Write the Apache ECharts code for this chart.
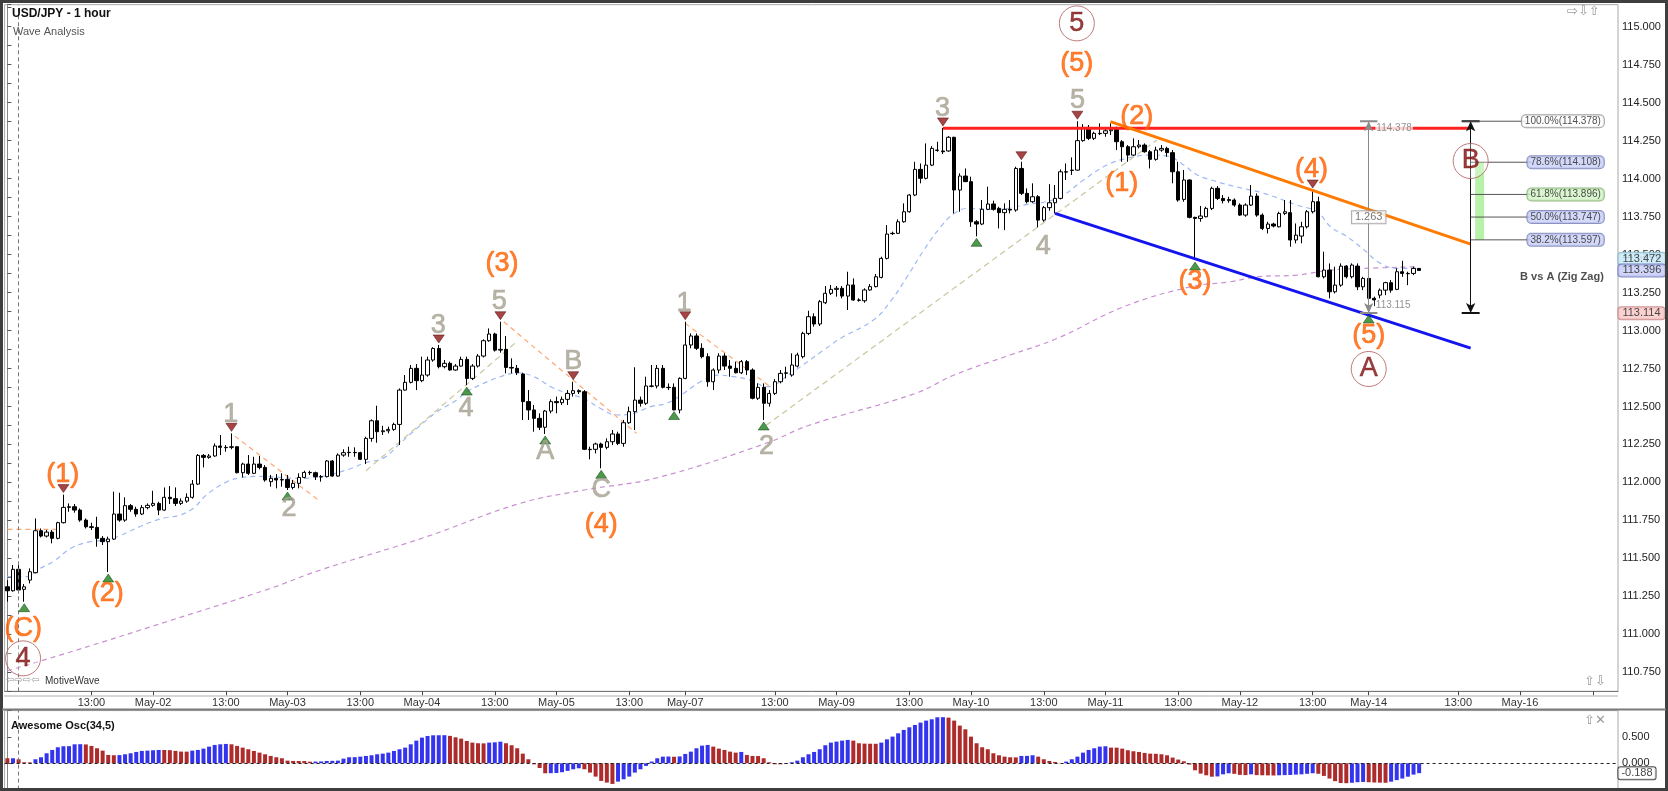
<!DOCTYPE html>
<html><head><meta charset="utf-8">
<script src="https://cdn.jsdelivr.net/npm/echarts@6/dist/echarts.min.js"></script>
<style>html,body{margin:0;padding:0;background:#fff}#c{width:1668px;height:791px}</style>
</head><body><div id="c"></div><script>
// ---------- DATA ----------
const slotCount = 288;
const open = [111.313,111.287,111.428,111.296,111.357,111.406,111.682,111.647,111.673,111.632,111.735,111.836,111.840,111.818,111.752,111.708,111.704,111.632,111.610,111.627,
111.792,111.752,111.847,111.823,111.792,111.834,111.849,111.862,111.818,111.902,111.893,111.862,111.877,111.902,111.989,112.178,112.165,112.174,112.240,112.231,
112.231,112.235,112.064,112.121,112.060,112.121,112.099,112.005,112.027,112.016,112.020,111.967,111.994,112.033,112.066,112.064,112.038,112.038,112.141,112.042,
112.180,112.196,112.198,112.196,112.152,112.290,112.406,112.334,112.340,112.349,112.382,112.608,112.659,112.751,112.670,112.707,112.806,112.882,112.762,112.784,
112.740,112.766,112.810,112.685,112.766,112.832,112.933,112.977,112.871,112.876,112.757,112.751,112.714,112.532,112.477,112.422,112.363,112.470,112.532,112.525,
112.547,112.586,112.604,112.597,112.218,112.218,112.253,112.231,112.268,112.319,112.257,112.393,112.466,112.542,112.521,112.635,112.635,112.751,112.626,112.626,
112.477,112.685,112.905,112.964,112.883,112.828,112.663,112.740,112.832,112.766,112.751,112.722,112.795,112.740,112.554,112.626,112.521,112.586,112.663,112.718,
112.707,112.766,112.828,112.981,113.091,113.043,113.183,113.245,113.271,113.278,113.227,113.300,113.201,113.196,113.267,113.289,113.350,113.475,113.640,113.640,
113.716,113.782,113.892,114.061,114.002,114.089,114.188,114.182,114.182,114.272,113.925,114.017,113.980,113.716,113.701,113.798,113.833,113.804,113.776,113.798,
113.793,114.067,113.903,113.848,113.881,113.727,113.809,113.841,113.870,114.045,114.056,114.056,114.250,114.337,114.265,114.298,114.298,114.315,114.324,114.243,
114.210,114.155,114.210,114.221,114.177,114.127,114.188,114.199,114.171,114.045,113.863,113.991,113.745,113.738,113.749,113.804,113.936,113.870,113.855,113.859,
113.826,113.760,113.826,113.885,113.760,113.672,113.701,113.683,113.771,113.776,113.596,113.622,113.683,113.782,113.848,113.354,113.398,113.255,113.299,113.424,
113.354,113.424,113.288,113.343,113.212,113.233,113.266,113.315,113.271,113.387,113.376,113.376,113.409];
const close = [111.287,111.428,111.292,111.313,111.412,111.682,111.647,111.673,111.632,111.735,111.836,111.840,111.818,111.752,111.708,111.704,111.632,111.610,111.627,111.792,
111.752,111.847,111.823,111.792,111.834,111.849,111.862,111.818,111.902,111.893,111.862,111.877,111.902,111.989,112.178,112.165,112.174,112.240,112.231,112.229,
112.235,112.064,112.121,112.060,112.121,112.099,112.016,112.027,112.016,112.020,111.967,111.994,112.033,112.066,112.064,112.038,112.036,112.141,112.042,112.180,
112.196,112.198,112.196,112.152,112.290,112.406,112.334,112.340,112.349,112.382,112.608,112.659,112.751,112.670,112.707,112.806,112.882,112.762,112.784,112.740,
112.766,112.810,112.685,112.766,112.832,112.933,112.977,112.871,112.876,112.757,112.753,112.722,112.532,112.477,112.422,112.363,112.470,112.532,112.525,112.547,
112.586,112.604,112.597,112.218,112.216,112.253,112.231,112.268,112.319,112.257,112.393,112.466,112.542,112.521,112.635,112.633,112.751,112.626,112.624,112.477,
112.685,112.905,112.964,112.883,112.828,112.663,112.740,112.832,112.766,112.751,112.722,112.795,112.740,112.554,112.626,112.521,112.586,112.663,112.718,112.722,
112.773,112.839,112.981,113.091,113.043,113.190,113.245,113.271,113.278,113.227,113.300,113.201,113.199,113.267,113.289,113.354,113.475,113.635,113.638,113.716,
113.782,113.892,114.061,114.002,114.089,114.199,114.186,114.177,114.272,113.925,114.017,113.980,113.716,113.701,113.798,113.833,113.798,113.776,113.798,113.793,
114.067,113.903,113.848,113.881,113.727,113.809,113.841,113.870,114.045,114.043,114.054,114.250,114.337,114.265,114.298,114.296,114.315,114.324,114.243,114.210,
114.155,114.210,114.221,114.177,114.127,114.188,114.199,114.171,114.045,113.859,113.991,113.745,113.738,113.754,113.804,113.936,113.870,113.855,113.863,113.826,
113.760,113.826,113.885,113.760,113.672,113.701,113.688,113.771,113.782,113.596,113.628,113.683,113.782,113.848,113.354,113.398,113.255,113.299,113.424,113.354,
113.431,113.288,113.343,113.212,113.201,113.266,113.315,113.266,113.387,113.376,113.374,113.409,113.396];
const high = [111.357,111.456,111.467,111.331,111.434,111.763,111.697,111.687,111.687,111.741,111.920,111.862,111.858,111.829,111.763,111.735,111.774,111.647,111.643,111.939,
111.932,111.902,111.858,111.840,111.851,111.862,111.945,111.873,111.967,111.976,111.967,111.895,111.928,112.016,112.187,112.187,112.187,112.257,112.312,112.246,
112.323,112.240,112.130,112.180,112.169,112.174,112.114,112.049,112.055,112.060,112.049,112.016,112.060,112.077,112.077,112.071,112.049,112.147,112.147,112.191,
112.218,112.235,112.231,112.202,112.301,112.415,112.505,112.373,112.367,112.393,112.619,112.707,112.773,112.779,112.828,112.828,112.890,112.905,112.806,112.795,
112.779,112.828,112.828,112.779,112.845,112.942,113.014,112.986,113.058,112.964,112.817,112.773,112.722,112.608,112.510,112.455,112.477,112.547,112.565,112.565,
112.608,112.663,112.613,112.608,112.235,112.262,112.262,112.290,112.345,112.334,112.411,112.499,112.758,112.565,112.696,112.773,112.773,112.773,112.652,112.652,
112.692,113.058,112.981,112.981,112.916,112.850,112.751,112.850,112.850,112.806,112.795,112.806,112.806,112.751,112.652,112.652,112.608,112.680,112.740,112.762,
112.850,112.854,112.992,113.130,113.113,113.201,113.293,113.300,113.293,113.293,113.387,113.343,113.212,113.278,113.306,113.372,113.486,113.694,113.651,113.732,
113.837,113.899,114.111,114.100,114.232,114.214,114.243,114.334,114.280,114.276,114.035,114.067,114.013,113.727,113.859,113.947,113.855,113.815,113.837,113.859,
114.078,114.111,113.936,113.969,113.892,113.820,113.964,113.958,114.061,114.100,114.140,114.378,114.359,114.353,114.309,114.364,114.331,114.364,114.342,114.254,
114.221,114.265,114.254,114.232,114.188,114.210,114.221,114.210,114.188,114.111,114.057,113.995,113.749,113.820,113.815,113.947,113.951,113.892,113.881,113.870,
113.837,113.837,113.958,113.903,113.771,113.716,113.710,113.782,113.859,113.859,113.705,113.716,113.793,113.925,113.881,113.519,113.442,113.420,113.442,113.431,
113.442,113.442,113.354,113.354,113.223,113.277,113.321,113.332,113.409,113.459,113.387,113.420,113.409];
const low = [111.215,111.281,111.270,111.215,111.335,111.401,111.638,111.638,111.599,111.625,111.730,111.807,111.801,111.741,111.697,111.687,111.577,111.588,111.410,111.621,
111.741,111.741,111.807,111.774,111.785,111.823,111.840,111.785,111.814,111.858,111.845,111.851,111.866,111.893,111.983,112.099,112.156,112.169,112.180,112.202,
112.218,112.060,112.033,112.049,112.055,112.086,112.005,111.972,111.961,111.972,111.950,111.954,111.961,112.027,112.049,112.016,112.005,112.033,112.038,112.038,
112.169,112.169,112.169,112.147,112.121,112.268,112.261,112.312,112.323,112.340,112.246,112.604,112.652,112.608,112.660,112.696,112.795,112.751,112.751,112.736,
112.736,112.762,112.641,112.674,112.757,112.823,112.926,112.861,112.854,112.718,112.718,112.707,112.411,112.411,112.334,112.345,112.319,112.455,112.455,112.510,
112.510,112.565,112.582,112.213,112.152,112.191,112.093,112.218,112.246,112.246,112.235,112.385,112.345,112.499,112.510,112.626,112.619,112.619,112.608,112.480,
112.455,112.679,112.883,112.872,112.817,112.630,112.608,112.718,112.740,112.696,112.718,112.714,112.707,112.547,112.543,112.411,112.499,112.575,112.652,112.685,
112.696,112.757,112.817,112.970,113.025,113.030,113.174,113.234,113.223,113.212,113.135,113.196,113.190,113.183,113.262,113.284,113.343,113.468,113.629,113.635,
113.710,113.776,113.885,113.969,113.995,114.083,114.177,114.162,114.177,113.771,113.782,113.978,113.683,113.620,113.694,113.793,113.789,113.672,113.661,113.771,
113.782,113.892,113.837,113.841,113.679,113.716,113.789,113.771,113.863,113.991,114.024,114.052,114.243,114.254,114.254,114.287,114.276,114.287,114.188,114.111,
114.111,114.149,114.199,114.171,114.067,114.118,114.177,114.144,113.969,113.848,113.848,113.738,113.464,113.716,113.745,113.793,113.859,113.837,113.841,113.815,
113.754,113.749,113.820,113.749,113.661,113.639,113.679,113.679,113.760,113.552,113.574,113.574,113.672,113.771,113.350,113.343,113.212,113.244,113.288,113.343,
113.343,113.266,113.266,113.115,113.161,113.212,113.233,113.249,113.266,113.354,113.299,113.365,113.398];
const awesomeOsc = [0.095,0.095,0.076,0.019,0.017,0.076,0.114,0.19,0.253,0.304,0.323,0.325,0.36,0.362,0.358,0.329,0.285,0.24,0.158,0.152,
0.155,0.171,0.19,0.215,0.234,0.24,0.247,0.253,0.252,0.249,0.235,0.222,0.221,0.24,0.253,0.278,0.316,0.348,0.36,0.367,
0.36,0.329,0.297,0.266,0.234,0.202,0.171,0.139,0.114,0.095,0.05,0.044,0.043,0.042,0.03,0.032,0.035,0.044,0.046,0.05,
0.088,0.114,0.116,0.126,0.139,0.152,0.171,0.183,0.202,0.234,0.266,0.297,0.36,0.43,0.487,0.518,0.531,0.532,0.533,0.52,
0.493,0.468,0.424,0.392,0.38,0.378,0.392,0.398,0.41,0.38,0.342,0.285,0.183,0.076,-0.02,-0.09,-0.19,-0.188,-0.185,-0.17,
-0.145,-0.114,-0.095,-0.114,-0.177,-0.253,-0.335,-0.367,-0.392,-0.348,-0.304,-0.253,-0.177,-0.114,-0.05,0.032,0.095,0.126,0.128,0.124,
0.13,0.177,0.221,0.285,0.335,0.348,0.316,0.278,0.253,0.221,0.202,0.215,0.158,0.139,0.137,0.095,0.019,-0.019,-0.02,-0.013,
0.019,0.05,0.114,0.171,0.215,0.266,0.342,0.392,0.411,0.43,0.443,0.43,0.38,0.373,0.371,0.37,0.392,0.455,0.506,0.569,
0.633,0.683,0.727,0.772,0.81,0.835,0.873,0.875,0.866,0.81,0.715,0.645,0.506,0.38,0.304,0.266,0.19,0.152,0.126,0.114,
0.112,0.139,0.14,0.152,0.126,0.076,0.044,0.025,0.005,0.032,0.076,0.126,0.202,0.253,0.285,0.316,0.323,0.297,0.296,0.278,
0.247,0.228,0.215,0.196,0.183,0.18,0.171,0.152,0.108,0.07,0.038,-0.025,-0.133,-0.196,-0.228,-0.255,-0.25,-0.21,-0.19,-0.2,
-0.22,-0.225,-0.21,-0.225,-0.228,-0.23,-0.232,-0.228,-0.225,-0.222,-0.215,-0.21,-0.2,-0.19,-0.2,-0.24,-0.29,-0.34,-0.375,-0.378,
-0.37,-0.36,-0.355,-0.36,-0.365,-0.368,-0.37,-0.35,-0.32,-0.29,-0.255,-0.215,-0.188];
const tickSlots  = [15,26,39,50,63,74,87,98,111,121,137,148,161,172,185,196,209,220,233,243,259,270,283];
const tickLabels = ["13:00","May-02","13:00","May-03","13:00","May-04","13:00","May-05","13:00","May-07","13:00","May-09","13:00","May-10","13:00","May-11","13:00","May-12","13:00","May-14","13:00","May-16",""];
const blueMA = [[0,111.38],[4,111.38],[5.2,111.42],[8.2,111.48],[11.5,111.57],[14.8,111.61],[17.7,111.62],[20.1,111.65],[23.7,111.71],[27.3,111.76],[30.8,111.785],[33.2,111.83],[35.6,111.92],[39.2,112.005],[41.5,112.03],[45.1,112.04],[52.3,112.027],[56.4,112.042],[61.2,112.09],[63.9,112.13],[67.1,112.16],[70.1,112.257],[73.1,112.356],[76.7,112.465],[80.2,112.543],[82,112.597],[85,112.652],[88,112.696],[91,112.722],[94,112.696],[97,112.63],[99.9,112.586],[102.9,112.553],[105.8,112.488],[108.8,112.444],[111.8,112.455],[114.8,112.499],[117.7,112.521],[120.7,112.586],[123.7,112.663],[126.7,112.707],[129.7,112.696],[132.6,112.674],[135.6,112.63],[139.8,112.718],[145.7,112.871],[148.7,112.948],[154.6,113.069],[157.6,113.19],[160.6,113.354],[163.6,113.53],[166.6,113.683],[169,113.771],[171.4,113.804],[175.6,113.798],[178.6,113.804],[181.4,113.826],[187.4,113.87],[192.1,113.991],[196.3,114.09],[200.5,114.14],[204,114.155],[207,114.149],[210,114.089],[212.4,114.024],[215.9,113.98],[219.2,113.947],[224.3,113.903],[230.2,113.826],[233.8,113.782],[236.2,113.683],[239.2,113.617],[242.2,113.53],[245.1,113.442],[248.1,113.409],[251.7,113.409]];
const purpleMA = [[0,110.76],[12.4,110.897],[28.4,111.083],[46.9,111.302],[55.6,111.42],[74.6,111.64],[91.5,111.862],[103,111.95],[115.9,112.03],[135.6,112.26],[143,112.375],[162,112.585],[169,112.707],[179,112.839],[187.4,112.948],[199.3,113.157],[211.2,113.288],[218.3,113.321],[223.1,113.354],[230.2,113.365],[236.2,113.398],[242.2,113.409],[251.7,113.42]];
const peakSlots = [10,40,77,88,101,121,167,181,191,233];
const troughSlots = [3,18,50,82,96,106,119,135,173,212,243];
const orangeWaveLabels = [["(C)",2.84,111.04],["(1)",9.88,112.053],["(2)",17.84,111.27],["(3)",88.3,113.438],["(4)",106,111.72],["(5)",190.9,114.756],["(1)",198.9,113.969],["(2)",201.6,114.407],["(3)",212,113.321],["(4)",232.8,114.057],["(5)",243,112.97]];
const grayWaveLabels = [["1",39.87,112.444],["2",50.27,111.83],["3",76.93,113.036],["4",81.87,112.488],["5",87.8,113.19],["A",96,112.202],["B",101,112.795],["C",106,111.955],["1",120.8,113.179],["2",135.5,112.235],["3",166.9,114.463],["4",184.9,113.552],["5",191,114.517]];
const circledLabels = [["4",2.8,110.842],["5",190.9,115.022],["A",243,112.747],["B",261.2,114.116]];
const redLevel = [[167,114.331],[261.2,114.331]];
const orangeChannel = [[196.9,114.375],[261.2,113.569]];
const blueChannel = [[187,113.771],[261.2,112.884]];
const tanLines = [[[64,112.077],[90.6,112.916]],[[135.4,112.375],[205.2,114.254]]];
const orangeDashLines = [[[0,111.691],[9,111.691]],[[40.6,112.305],[55.5,111.884]],[[88.6,113.058],[112.3,112.323]],[[121,113.047],[136.2,112.63]]];
const dayStartSlot = 2;
const measureSlot = 243, zigzagSlot = 261.2;
const waveHigh = 114.378, waveLow = 113.115, waveRange = "1.263";
const fibNames = ["100.0%","78.6%","61.8%","50.0%","38.2%"];
const fibLevels = [114.378,114.108,113.896,113.747,113.597];
const lastPrice = 113.396, maTag = 113.472, lowTag = 113.114, aoLast = -0.188;

// ---------- CHART ----------
const FONT = 'Liberation Sans, Arial, sans-serif';
const chart = echarts.init(document.getElementById('c'), null, {renderer:'canvas'});
const tickSet = new Set(tickSlots);
const labelMap = {}; tickSlots.forEach((s,i)=>labelMap[s]=tickLabels[i]);
const cats = Array.from({length:slotCount},(_,i)=>String(i));
const GL = 4.6, GW = 1613.4;

function seg(pts, color, width, type, z){
  return {type:'line', xAxisIndex:2, yAxisIndex:0, data:pts, symbol:'none', silent:true,
    lineStyle:{color:color, width:width, type:type||'solid'}, z:z||3, animation:false};
}
const series = [];
series.push({type:'line', xAxisIndex:2, yAxisIndex:0, data:purpleMA, smooth:0.4, symbol:'none', silent:true,
  lineStyle:{color:'#c98fd2', width:1.2, type:[5,4]}, z:1,
  markLine:{silent:true, symbol:'none', label:{show:false}, lineStyle:{color:'#777', type:[4,3], width:1}, data:[{xAxis:dayStartSlot}]}});
series.push({type:'line', xAxisIndex:2, yAxisIndex:0, data:blueMA, smooth:0.4, symbol:'none', silent:true,
  lineStyle:{color:'#9fb9f4', width:1.2, type:[5,4]}, z:1});
tanLines.forEach(p=>series.push(seg(p,'#cbc69c',1.2,[6,4],1)));
orangeDashLines.forEach(p=>series.push(seg(p,'#ffa670',1.2,[5,4],1)));
series.push({type:'candlestick', xAxisIndex:0, yAxisIndex:0, barWidth:3.8, z:2,
  data: open.map((o,i)=>[o, close[i], low[i], high[i]]),
  itemStyle:{color:'#ffffff', color0:'#000000', borderColor:'#000000', borderColor0:'#000000', borderColorDoji:'#000000', borderWidth:1}});
series.push(seg(redLevel,'#ff2020',3,'solid',4));
series.push(seg(orangeChannel,'#ff7a00',3,'solid',4));
series.push(seg(blueChannel,'#1414ee',3,'solid',4));
series.push({type:'line', xAxisIndex:2, yAxisIndex:0, data:[[measureSlot,waveHigh]], symbol:'none', lineStyle:{opacity:0}, silent:true, z:5,
  markLine:{silent:true, symbol:['arrow','arrow'], symbolSize:[7,10], label:{show:false}, lineStyle:{color:'#8a8a8a', width:1, type:'solid'},
    data:[[{coord:[measureSlot,waveHigh]},{coord:[measureSlot,waveLow]}]]}});
series.push(seg([[measureSlot-1.55,waveHigh],[measureSlot+1.55,waveHigh]],'#8a8a8a',2,'solid',5));
series.push(seg([[measureSlot-1.55,waveLow],[measureSlot+1.55,waveLow]],'#8a8a8a',2,'solid',5));
series.push({type:'line', xAxisIndex:2, yAxisIndex:0, data:[[zigzagSlot,waveHigh]], symbol:'none', lineStyle:{opacity:0}, silent:true, z:5,
  markLine:{silent:true, symbol:['arrow','arrow'], symbolSize:[7,10], label:{show:false}, lineStyle:{color:'#111', width:1, type:'solid'},
    data:[[{coord:[zigzagSlot,waveHigh]},{coord:[zigzagSlot,waveLow]}]]},
  markArea:{silent:true, itemStyle:{color:'#b8f2a8'}, data:[[{coord:[262.0,fibLevels[1]]},{coord:[263.6,fibLevels[4]]}]]}});
series.push(seg([[zigzagSlot-1.6,waveHigh],[zigzagSlot+1.6,waveHigh]],'#111',2,'solid',5));
series.push(seg([[zigzagSlot-1.6,waveLow],[zigzagSlot+1.6,waveLow]],'#111',2,'solid',5));
fibLevels.forEach((lv,i)=>{
  series.push(seg([[i===0?259.6:zigzagSlot, lv],[i===0?271.2:272, lv]],'#555',1,'solid',5));
});
const fibBg = ['#ffffff','#c9d0f8','#d2f2c4','#c9d0f8','#c9d0f8'];
const fibBd = ['#8a8a8a','#6f78b0','#78a868','#6f78b0','#6f78b0'];
series.push({type:'scatter', xAxisIndex:2, yAxisIndex:0, silent:true, z:6, symbolSize:1, itemStyle:{color:'rgba(0,0,0,0)'},
  data: fibLevels.map((lv,i)=>({name: fibNames[i]+'('+lv.toFixed(3)+')', value:[285.06, lv],
    label:{backgroundColor:fibBg[i], borderColor:fibBd[i]}})),
  label:{show:true, position:'left', distance:0, formatter:'{b}', fontSize:10, fontFamily:FONT, color:'#222', textBorderWidth:0,
    borderWidth:1, borderRadius:4, padding:[1,3,1,3]}});
series.push({type:'scatter', xAxisIndex:2, yAxisIndex:0, silent:true, z:6, symbolSize:1, itemStyle:{color:'rgba(0,0,0,0)'},
  data:[{name:'B vs A (Zig Zag)', value:[285.06, 113.354]}],
  label:{show:true, position:'left', distance:0, formatter:'{b}', fontSize:11, fontWeight:'bold', fontFamily:FONT, color:'#222', textBorderWidth:0}});
series.push({type:'scatter', xAxisIndex:2, yAxisIndex:0, silent:true, z:6, symbolSize:1, itemStyle:{color:'rgba(0,0,0,0)'},
  data:[{name:waveHigh.toFixed(3), value:[244.1, 114.33]},{name:waveLow.toFixed(3), value:[244.0, 113.167]}],
  label:{show:true, position:'right', distance:0, formatter:'{b}', fontSize:10, fontFamily:FONT, color:'#777', textBorderWidth:0, backgroundColor:'#fff', padding:[0,1]}});
series.push({type:'scatter', xAxisIndex:2, yAxisIndex:0, silent:true, z:6, symbolSize:1, itemStyle:{color:'rgba(0,0,0,0)'},
  data:[{name:waveRange, value:[measureSlot, (waveHigh+waveLow)/2]}],
  label:{show:true, position:'inside', formatter:'{b}', fontSize:11, fontFamily:FONT, color:'#555', textBorderWidth:0, backgroundColor:'#fff', borderColor:'#999', borderWidth:1, padding:[1,3,0,3]}});
series.push({type:'scatter', xAxisIndex:2, yAxisIndex:0, silent:true, z:7, symbol:'path://M0,0L10,0L5,7Z', symbolSize:[11,8], symbolOffset:[0,-6],
  itemStyle:{color:'#8e1616', borderColor:'#4a0000', borderWidth:0.6}, data: peakSlots.map(s=>[s, high[s]])});
series.push({type:'scatter', xAxisIndex:2, yAxisIndex:0, silent:true, z:7, symbol:'path://M5,0L10,7L0,7Z', symbolSize:[11,8], symbolOffset:[0,6],
  itemStyle:{color:'#1f7f1f', borderColor:'#0a400a', borderWidth:0.6}, data: troughSlots.map(s=>[s, low[s]])});
function labelSeries(arr, color){
  return {type:'scatter', xAxisIndex:2, yAxisIndex:0, silent:true, z:8, symbolSize:1, itemStyle:{color:'rgba(0,0,0,0)'},
    data: arr.map(([t,s,p])=>({name:t, value:[s,p]})),
    label:{show:true, position:'inside', formatter:'{b}', fontSize:27, fontFamily:FONT, color:color, textBorderWidth:0.7, textBorderColor:color}};
}
series.push(labelSeries(orangeWaveLabels,'#ff6000'));
series.push(labelSeries(grayWaveLabels,'#a6a192'));
series.push({type:'scatter', xAxisIndex:2, yAxisIndex:0, silent:true, z:8, symbol:'circle', symbolSize:35,
  itemStyle:{color:'rgba(255,255,255,0.35)', borderColor:'#b05a5a', borderWidth:1},
  data: circledLabels.map(([t,s,p])=>({name:t, value:[s,p]})),
  label:{show:true, position:'inside', formatter:'{b}', fontSize:27, fontFamily:FONT, color:'#7d0c0c', textBorderWidth:0.5, textBorderColor:'#7d0c0c'}});
function tag(v, bg, bd, z){
  return {type:'scatter', xAxisIndex:2, yAxisIndex:0, silent:true, z:z, symbolSize:1, itemStyle:{color:'rgba(0,0,0,0)'},
    data:[{name:v.toFixed(3), value:[287.3, v]}],
    label:{show:true, position:'right', distance:1, formatter:'{b}', fontSize:11, fontFamily:FONT, color:'#222', textBorderWidth:0,
      backgroundColor:bg, borderColor:bd, borderWidth:1, borderRadius:3, padding:[1,4,0,4]}};
}
series.push(tag(maTag,'#c6e9f7','#7fb2c8',9));
series.push(tag(lastPrice,'#c3c9f6','#6a72b8',10));
series.push(tag(lowTag,'#f7c6c6','#c47a7a',9));
series.push({type:'bar', xAxisIndex:1, yAxisIndex:1, barWidth:4, silent:true, z:2,
  data: awesomeOsc.map((v,i)=>({value:v, itemStyle:{color: (i>0 && v>=awesomeOsc[i-1]) ? '#3434ee' : '#ad2b2b'}})),
  markLine:{silent:true, symbol:'none', label:{show:false}, lineStyle:{color:'#222', type:[3,3], width:1}, data:[{yAxis:0}]}});
series.push({type:'line', xAxisIndex:3, yAxisIndex:1, data:[[0,0]], symbol:'none', lineStyle:{opacity:0}, silent:true,
  markLine:{silent:true, symbol:'none', label:{show:false}, lineStyle:{color:'#777', type:[4,3], width:1}, data:[{xAxis:dayStartSlot}]}});
series.push({type:'scatter', xAxisIndex:3, yAxisIndex:1, silent:true, z:9, symbolSize:1, itemStyle:{color:'rgba(0,0,0,0)'},
  data:[{name:aoLast.toFixed(3), value:[287.3, aoLast]}],
  label:{show:true, position:'right', distance:1, formatter:'{b}', fontSize:11, fontFamily:FONT, color:'#111', textBorderWidth:0,
    backgroundColor:'#fff', borderColor:'#222', borderWidth:1, borderRadius:2, padding:[1,3,0,3]}});

const option = {
  animation:false,
  backgroundColor:'#ffffff',
  textStyle:{fontFamily:FONT},
  grid:[
    {left:GL, top:4.7, width:GW, height:686.6, show:true, borderColor:'#a8a8a8', borderWidth:1, backgroundColor:'#fff', containLabel:false, outerBoundsMode:'none'},
    {left:GL, top:710.6, width:GW, height:79, show:true, borderColor:'#a8a8a8', borderWidth:1, backgroundColor:'#fff', containLabel:false, outerBoundsMode:'none'}
  ],
  xAxis:[
    {type:'category', gridIndex:0, data:cats, boundaryGap:true,
      axisLine:{show:true, lineStyle:{color:'#777'}},
      axisTick:{show:true, alignWithLabel:true, interval:(i)=>tickSet.has(i), length:4, lineStyle:{color:'#444'}},
      axisLabel:{show:true, interval:(i)=>tickSet.has(i), formatter:(v)=>labelMap[+v]||'', fontSize:11, color:'#333', margin:6, fontFamily:FONT},
      splitLine:{show:false}},
    {type:'category', gridIndex:1, data:cats, boundaryGap:true, axisLine:{show:false}, axisTick:{show:false}, axisLabel:{show:false}, splitLine:{show:false}},
    {type:'value', gridIndex:0, min:-0.5, max:slotCount-0.5, show:false},
    {type:'value', gridIndex:1, min:-0.5, max:slotCount-0.5, show:false}
  ],
  yAxis:[
    {type:'value', gridIndex:0, position:'right', min:110.625, max:115.145, interval:0.125, scale:true,
      axisLine:{show:true, lineStyle:{color:'#888'}},
      axisTick:{show:true, length:4, lineStyle:{color:'#555'}},
      axisLabel:{show:true, fontSize:11, color:'#222', margin:4, fontFamily:FONT,
        formatter:(v)=> Math.abs(v*4-Math.round(v*4))<1e-6 ? v.toFixed(3) : ''},
      splitLine:{show:false}},
    {type:'value', gridIndex:1, position:'right', min:-0.5, max:1.0, interval:0.5,
      axisLine:{show:true, lineStyle:{color:'#888'}},
      axisTick:{show:true, length:4, lineStyle:{color:'#555'}},
      axisLabel:{show:true, fontSize:11, color:'#222', margin:4, fontFamily:FONT,
        formatter:(v)=> (Math.abs(v-0.5)<1e-9 ? '0.500' : (Math.abs(v)<1e-9 ? '0.000' : ''))},
      splitLine:{show:false}}
  ],
  graphic:[
    {type:'rect', z:100, silent:true, shape:{x:1.5, y:1.5, width:1665, height:788}, style:{fill:'none', stroke:'#3e3e3e', lineWidth:3}},
    {type:'line', z:100, silent:true, shape:{x1:4, y1:696, x2:1618, y2:696}, style:{stroke:'#b0b0b0', lineWidth:1}},
    {type:'line', z:100, silent:true, shape:{x1:2, y1:709.5, x2:1666, y2:709.5}, style:{stroke:'#7a7a7a', lineWidth:2}},
    {type:'text', z:100, silent:true, left:12, top:8, style:{text:'USD/JPY - 1 hour', font:'bold 12px '+FONT, fill:'#111'}},
    {type:'text', z:100, silent:true, left:13, top:26, style:{text:'Wave Analysis', font:'11px '+FONT, fill:'#555'}},
    {type:'text', z:100, silent:true, left:1567, top:5, style:{text:'\u21E8\u21E9\u21E7', font:'13px DejaVu Sans', fill:'#9a9a9a'}},
    {type:'text', z:100, silent:true, left:6, top:675, style:{text:'\u21E6\u21E8\u21E8\u21E6', font:'10px DejaVu Sans', fill:'#9a9a9a'}},
    {type:'text', z:100, silent:true, left:45, top:676, style:{text:'MotiveWave', font:'10px '+FONT, fill:'#333'}},
    {type:'text', z:100, silent:true, left:1584, top:675, style:{text:'\u21E7\u21E9', font:'13px DejaVu Sans', fill:'#9a9a9a'}},
    {type:'text', z:100, silent:true, left:1584, top:714, style:{text:'\u21E7\u2715', font:'13px DejaVu Sans', fill:'#9a9a9a'}},
    {type:'text', z:100, silent:true, left:11, top:720, style:{text:'Awesome Osc(34,5)', font:'bold 11px '+FONT, fill:'#111'}}
  ],
  series: series
};
chart.setOption(option);
</script></body></html>
